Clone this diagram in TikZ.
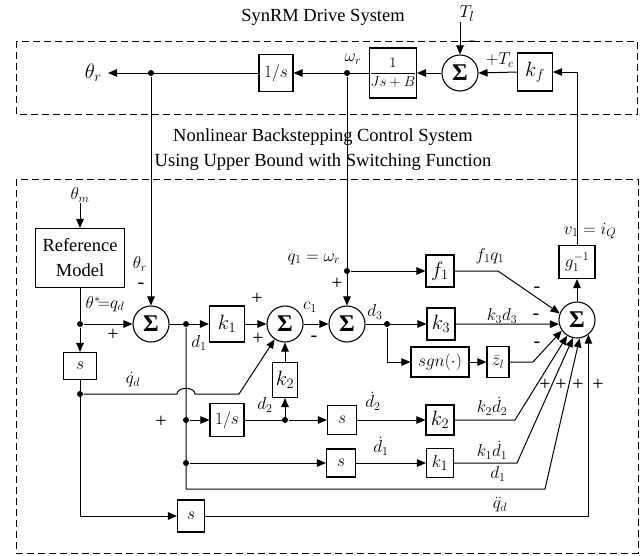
\documentclass[tikz,border=0pt]{standalone}
\usepackage{amsmath}
\usepackage{fontspec}
\setmainfont{Liberation Serif}
\usetikzlibrary{arrows.meta}
\begin{document}
\begin{tikzpicture}[x=1pt,y=-1pt,
  line width=1pt,
  >={Triangle[length=9pt,width=7.5pt]},
  blk/.style={draw, line width=1.1pt, inner sep=0pt, font=\fontsize{22}{22}\selectfont},
  sblk/.style={blk, font=\fontsize{16}{16}\selectfont},
  sumc/.style={draw, circle, line width=1.1pt, minimum size=36pt, inner sep=0pt, font=\fontsize{24}{24}\selectfont\bfseries},
  dot/.style={circle, fill, inner sep=0pt, minimum size=6pt},
  lbl/.style={inner sep=0pt, font=\fontsize{18}{18}\selectfont},
  sgnl/.style={inner sep=0pt, font=\fontsize{20}{20}\selectfont},
  frame/.style={draw, line width=1pt, dash pattern=on 7pt off 4pt},
  ttl/.style={font=\fontsize{18.5}{25}\selectfont, align=center, inner sep=0pt}
]
\useasboundingbox (0,0) rectangle (643,555);

% ---------- frames and titles ----------
\draw[frame] (16,41) rectangle (637,114);
\draw[frame] (16,179) rectangle (638,553);
\node[ttl] (title1) at (323,17) {SynRM Drive System};
\node[ttl] (title2) at (323,149.5) {Nonlinear Backstepping Control System\\Using Upper Bound with Switching Function};

% ---------- drive system ----------
\node[inner sep=6pt, anchor=east, font=\fontsize{21}{21}\selectfont] (thr) at (108,73) {$\theta_r$};
\node[dot] (dotTh) at (151,73) {};
\node[sblk, minimum width=34pt, minimum height=37pt] (invs1) at (276,73) {$1/s$};
\node[dot] (dotW) at (347,73) {};
\node[lbl] (wr) at (353,59) {$\omega_r$};
\node[blk, minimum width=47pt, minimum height=50pt, font=\fontsize{15}{15}\selectfont] (plant) at (393,73) {$\dfrac{1}{Js+B}$};
\node[sumc] (sumT) at (460,73) {Σ};
\node[lbl, font=\fontsize{19}{19}\selectfont] (Tl) at (467,14) {$T_l$};
\node[sgnl] (mT) at (472,44) {-};
\node[lbl] (Te) at (500,60) {$+T_e$};
\node[blk, minimum width=35pt, minimum height=38pt] (kf) at (535,72) {$k_f$};

\draw[->] (invs1.west) -- (thr.east);
\draw[->] (plant.west) -- (invs1.east);
\draw[->] (sumT.west) -- (plant.east);
\draw[->] (kf.west) -- (sumT.east);
\draw[->] (Tl.south -| sumT.north) -- (sumT.north);

% ---------- control system, left part ----------
\node[lbl] (thm) at (80,195) {$\theta_m$};
\node[blk, minimum width=89pt, minimum height=59pt, align=center, font=\fontsize{18.5}{25}\selectfont] (RM) at (80,258) {Reference\\Model};
\node[dot] (dotQd) at (80,324) {};
\node[lbl] (qdlab) at (105,304) {$\theta^{*}\!{=}q_d$};
\node[sgnl] (pQd) at (113,335) {+};
\node[lbl] (thr2) at (140,264) {$\theta_r$};
\node[sgnl] (mTh) at (141,286) {-};
\node[sumc] (sum1) at (151,324) {Σ};
\node[sblk, minimum width=33pt, minimum height=27pt] (sL) at (80,366) {$s$};
\node[dot] (dotQdd) at (80,394) {};
\node[lbl] (qdd) at (133,380) {$\dot q_d$};

\node[dot] (dotD1) at (186,324) {};
\node[lbl] (d1a) at (199,343) {$d_1$};
\node[blk, minimum width=35pt, minimum height=36pt] (k1) at (227,324) {$k_1$};
\node[sgnl] (p21) at (257,299) {+};
\node[sgnl] (p22) at (258,339) {+};
\node[sumc] (sum2) at (285,324) {Σ};
\node[lbl] (c1) at (310,307) {$c_1$};
\node[sgnl] (m23) at (314,339) {-};
\node[blk, minimum width=25pt, minimum height=35pt] (k2) at (285,380) {$k_2$};

\node[dot] (dotQ1) at (347,271) {};
\node[lbl] (q1lab) at (314,259) {$q_1=\omega_r$};
\node[sgnl] (p3) at (337,284) {+};
\node[sumc] (sum3) at (347,324) {Σ};
\node[lbl] (d3lab) at (375,312) {$d_3$};
\node[dot] (dotD3) at (387,324) {};

\node[blk, minimum width=28pt, minimum height=32pt] (f1) at (440,271) {$f_1$};
\node[blk, minimum width=28pt, minimum height=32pt] (k3) at (441,324) {$k_3$};
\node[blk, minimum width=58pt, minimum height=30pt, font=\fontsize{18}{18}\selectfont] (sgn) at (440,362) {$sgn(\cdot)$};
\node[blk, minimum width=22pt, minimum height=31pt, font=\fontsize{18}{18}\selectfont] (zb) at (498,362) {$\bar{z}_l$};
\node[lbl] (f1q1) at (490,256) {$f_1q_1$};
\node[lbl] (k3d3) at (502,316) {$k_3d_3$};

% ---------- lower rows ----------
\node[sgnl] (pA) at (161,422) {+};
\node[dot] (dotA) at (186,420) {};
\node[sblk, minimum width=34pt, minimum height=33pt] (is2) at (227,420) {$1/s$};
\node[dot] (dotD2) at (285,420) {};
\node[lbl] (d2lab) at (265,405) {$d_2$};
\node[sblk, minimum width=29pt, minimum height=29pt] (sA) at (342,420) {$s$};
\node[lbl] (dd2) at (373,401) {$\dot d_2$};
\node[blk, minimum width=28pt, minimum height=30pt] (k2r) at (440,420) {$k_2$};
\node[lbl] (k2dd2) at (492,406) {$k_2\dot d_2$};

\node[dot] (dotB) at (186,463) {};
\node[sblk, minimum width=29pt, minimum height=28pt] (sB) at (341,463) {$s$};
\node[lbl] (dd1) at (381,446) {$\dot d_1$};
\node[blk, minimum width=27pt, minimum height=29pt, font=\fontsize{19}{19}\selectfont] (k1r) at (440,463) {$k_1$};
\node[lbl] (k1dd1) at (492,450) {$k_1\dot d_1$};
\node[lbl] (d1b) at (498,474) {$d_1$};

\node[sblk, minimum width=27pt, minimum height=32pt] (s3) at (191,516) {$s$};
\node[lbl] (qddd) at (500,505) {$\ddot q_d$};

% ---------- output summation ----------
\node[sumc] (sumB) at (577,320) {Σ};
\node[blk, minimum width=36pt, minimum height=33pt, font=\fontsize{17}{17}\selectfont] (g1) at (577,262) {$g_1^{-1}$};
\node[lbl] (v1) at (590,231) {$v_1=i_Q$};
\node[sgnl] (mB1) at (537,290) {-};
\node[sgnl] (mB2) at (536,317) {-};
\node[sgnl] (mB3) at (537,345) {-};
\node[sgnl] (pB1) at (545,385) {+};
\node[sgnl] (pB2) at (561,385) {+};
\node[sgnl] (pB3) at (578,385) {+};
\node[sgnl] (pB4) at (598,385) {+};

% ---------- connectors ----------
\draw[->] (dotTh) -- (sum1.north);
\draw[->] (dotW) -- (sum3.north);
\draw[->] (dotQ1) -- (f1.west);
\draw[->] (g1.north) |- (kf.east);
\draw[->] (sumB.north) -- (g1.south);

\draw[->] (thm) -- (RM.north);
\draw (RM.south) -- (dotQd);
\draw[->] (dotQd) -- (sL.north);
\draw[->] (dotQd) -- (sum1.west);
\draw[->] (sL.south) |- (s3.west);
\draw[->] (dotQdd) -- (177,394) .. controls (177,386.5) and (195,386.5) .. (195,394) -- (239,394) -- (sum2.236);

\draw[->] (sum1.east) -- (k1.west);
\draw[->] (k1.east) -- (sum2.west);
\draw[->] (sum2.east) -- (sum3.west);
\draw[->] (k2.north) -- (sum2.south);
\draw[->] (dotD2) -- (k2.south);
\draw[->] (sum3.east) -- (k3.west);
\draw[->] (dotD3) |- (sgn.west);
\draw[->] (sgn.east) -- (zb.west);

\draw[->] (f1.east) -- (498,271) -- (sumB.159);
\draw[->] (k3.east) -- (sumB.193);
\draw[->] (zb.east) -- (533,362) -- (sumB.215);

\draw[->] (dotD1) |- (545,489) -- (sumB.278);
\draw[->] (dotA) -- (is2.west);
\draw (is2.east) -- (dotD2);
\draw[->] (dotD2) -- (sA.west);
\draw[->] (sA.east) -- (k2r.west);
\draw[->] (k2r.east) -- (515,420) -- (sumB.238);
\draw[->] (dotB) -- (sB.west);
\draw[->] (sB.east) -- (k1r.west);
\draw[->] (k1r.east) -- (517,463) -- (sumB.257);
\draw[->] (s3.east) -| (sumB.308);
\end{tikzpicture}
\end{document}
